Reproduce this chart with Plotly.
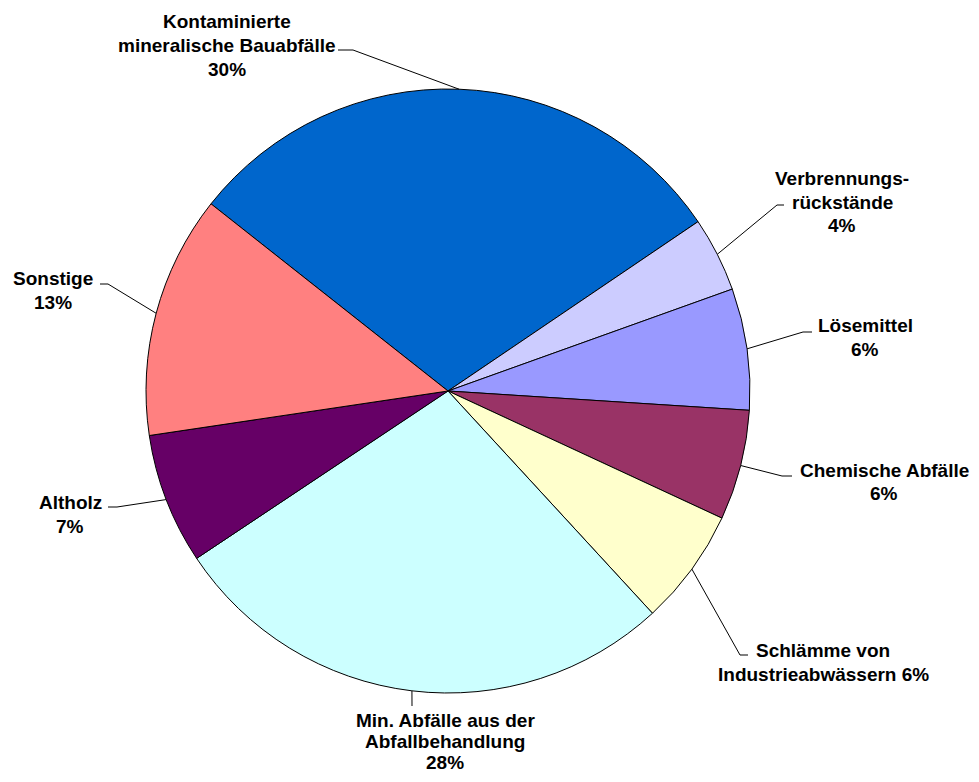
import math
import plotly.graph_objects as go

# ---- data ----
categories = [
    "Kontaminierte mineralische Bauabfälle",
    "Verbrennungsrückstände",
    "Lösemittel",
    "Chemische Abfälle",
    "Schlämme von Industrieabwässern",
    "Min. Abfälle aus der Abfallbehandlung",
    "Altholz",
    "Sonstige",
]
values = [29.9, 4.0, 6.5, 5.9, 6.25, 27.5, 7.0, 13.0]
label_lines = [
    ["Kontaminierte", "mineralische Bauabfälle", "30%"],
    ["Verbrennungs-", "rückstände", "4%"],
    ["Lösemittel", "6%"],
    ["Chemische Abfälle", "6%"],
    ["Schlämme von", "Industrieabwässern 6%"],
    ["Min. Abfälle aus der", "Abfallbehandlung", "28%"],
    ["Altholz", "7%"],
    ["Sonstige", "13%"],
]
colors = ["#0066CC", "#CCCCFF", "#9999FF", "#993366",
          "#FFFFCC", "#CCFFFF", "#660066", "#FF8080"]

# ---- layout (pixel positions in the page window) ----
PAGE_W, PAGE_H = 979, 782
BODY = 8  # default browser body margin
W, H = PAGE_W - 2 * BODY, PAGE_H - 2 * BODY
CX, CY, R = 448, 391, 302
ROTATION = -51.7
# label block centre x, first-line centre y, line spacing
label_pos = [(227, 21, 24.5), (842, 178, 24), (865, 325, 24.5), (884, 470, 24),
             (823, 650, 24.5), (445, 720, 21), (70, 502, 24), (53, 278, 24)]
# leader elbow (end at pie side) and horizontal tail end
elbows = [((353, 50), (338, 50)), ((777, 205), (784, 205)),
          ((803, 332), (812, 332)), ((782, 476), (792, 476)),
          ((740, 655), (748, 655)), ((412, 706), None),
          ((117, 507), (108, 507)), ((108, 284), (100, 284))]


def px(x):
    return (x - BODY) / W


def py(y):
    return 1 - (y - BODY) / H


fig = go.Figure(go.Pie(
    labels=categories,
    values=values,
    sort=False,
    direction="clockwise",
    rotation=ROTATION,
    textinfo="none",
    hoverinfo="label+percent",
    marker=dict(colors=colors, line=dict(color="black", width=1)),
    domain=dict(x=[px(CX - R), px(CX + R)], y=[py(CY + R), py(CY - R)]),
    showlegend=False,
))

total = sum(values)
shapes = []
annotations = []
cum = 0.0
for i, v in enumerate(values):
    mid = ROTATION + (cum + v / 2) / total * 360
    cum += v
    a = math.radians(mid)
    ex, ey = CX + R * math.sin(a), CY - R * math.cos(a)
    (bx, by), tail = elbows[i]
    shapes.append(dict(type="line", xref="paper", yref="paper",
                       x0=px(ex), y0=py(ey), x1=px(bx), y1=py(by),
                       line=dict(color="black", width=1)))
    if tail is not None:
        shapes.append(dict(type="line", xref="paper", yref="paper",
                           x0=px(bx), y0=py(by), x1=px(tail[0]), y1=py(tail[1]),
                           line=dict(color="black", width=1)))
    lx, ly, sp = label_pos[i]
    for j, line in enumerate(label_lines[i]):
        annotations.append(dict(
            x=px(lx), y=py(ly + j * sp), xref="paper", yref="paper",
            xanchor="center", yanchor="middle", align="center",
            text=line, showarrow=False, borderpad=0,
            font=dict(family="Liberation Sans, Arial, sans-serif", size=19,
                      color="black", weight="bold"),
        ))

fig.update_layout(
    width=W, height=H,
    margin=dict(l=0, r=0, t=0, b=0),
    paper_bgcolor="white", plot_bgcolor="white",
    shapes=shapes, annotations=annotations,
)

fig.write_html("out.html")
